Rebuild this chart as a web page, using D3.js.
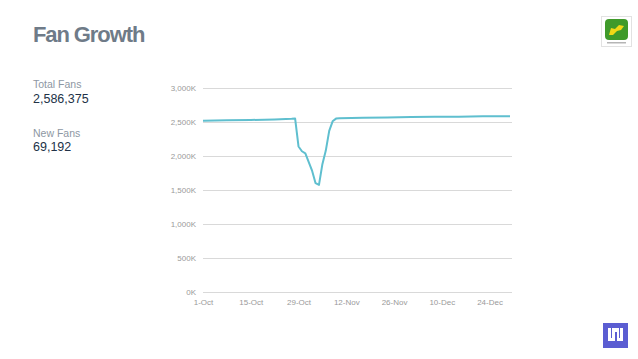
<!DOCTYPE html>
<html><head><meta charset="UTF-8">
<style>
  body, html { margin: 0; padding: 0; background: #fff; overflow: hidden; }
  svg { font-family: 'Liberation Sans', Arial, sans-serif; }
  .grid line { stroke: #d9d9d9; stroke-width: 1; }
  .tick text { fill: #9a9a9a; font-size: 8px; }
</style>
</head>
<body>
<svg id="chart" width="638" height="359"></svg>
<script src="https://d3js.org/d3.v7.min.js"></script>
<script>
// fans over time (thousands)
const dates = [
  "2013-10-01", "2013-10-08", "2013-10-15", "2013-10-22", "2013-10-27", "2013-10-28",
  "2013-10-29", "2013-10-30", "2013-10-31", "2013-11-01", "2013-11-02", "2013-11-03",
  "2013-11-04", "2013-11-05", "2013-11-06", "2013-11-07", "2013-11-08", "2013-11-09",
  "2013-11-10", "2013-11-17", "2013-11-24", "2013-12-01", "2013-12-08", "2013-12-15",
  "2013-12-22", "2013-12-30"
];
const fans = [
  2517, 2524, 2530, 2538, 2548, 2552,
  2140, 2070, 2040, 1910, 1780, 1600,
  1575, 1880, 2080, 2370, 2510, 2550,
  2556, 2561, 2566, 2572, 2576, 2579,
  2583, 2586
];
const yTicks = [0, 500, 1000, 1500, 2000, 2500, 3000];
const xTicks = ["2013-10-01", "2013-10-15", "2013-10-29", "2013-11-12", "2013-11-26", "2013-12-10", "2013-12-24"];
const stats = [
  { label: "Total Fans", value: "2,586,375" },
  { label: "New Fans", value: "69,192" }
];

const parse = d3.timeParse("%Y-%m-%d");
const data = dates.map((d, i) => ({ date: parse(d), value: fans[i] }));

const svg = d3.select("#chart");

// title
svg.append("text")
  .attr("x", 33).attr("y", 42)
  .attr("fill", "#6f7b88")
  .attr("font-size", 22)
  .attr("font-weight", "bold")
  .attr("letter-spacing", -1.1)
  .text("Fan Growth");

// side stats
stats.forEach((s, i) => {
  svg.append("text")
    .attr("x", 33).attr("y", 88 + i * 49)
    .attr("fill", "#8d97a3").attr("font-size", 10.5)
    .text(s.label);
  svg.append("text")
    .attr("x", 33).attr("y", 103 + i * 48)
    .attr("fill", "#223247").attr("font-size", 12.5)
    .text(s.value);
});

const x = d3.scaleTime()
  .domain([parse("2013-10-01"), parse("2013-12-30")])
  .range([203, 510]);
const y = d3.scaleLinear().domain([0, 3000]).range([292, 88]);

// gridlines + y labels
const yAxis = svg.append("g")
  .attr("class", "grid")
  .attr("transform", "translate(203,0)")
  .call(d3.axisLeft(y).tickValues(yTicks).tickSize(-309).tickPadding(7)
    .tickFormat(d => d3.format(",")(d) + "K"));
yAxis.select(".domain").remove();
yAxis.selectAll(".tick line").filter(d => d === 0).attr("stroke", "#8a8a8a");

// x labels
const xAxis = svg.append("g")
  .attr("transform", "translate(0,292)")
  .call(d3.axisBottom(x).tickValues(xTicks.map(parse)).tickSize(0).tickPadding(7)
    .tickFormat(d3.timeFormat("%-d-%b")));
xAxis.select(".domain").remove();

// line
svg.append("path")
  .datum(data)
  .attr("fill", "none")
  .attr("stroke", "#5fbfcf")
  .attr("stroke-width", 2)
  .attr("stroke-linejoin", "round")
  .attr("d", d3.line().x(d => x(d.date)).y(d => y(d.value)));

// logos
const jd = svg.append("g");
jd.append("rect").attr("x", 601.5).attr("y", 16.5).attr("width", 30).attr("height", 30)
  .attr("fill", "#fff").attr("stroke", "#e2e2e2");
jd.append("rect").attr("x", 605).attr("y", 19).attr("width", 23).attr("height", 21).attr("rx", 4)
  .attr("fill", "#3f9a2a");
jd.append("path").attr("d", "M609,35 L611,28 L615,29 L619,25 L624,26 L621,30 L617,31 L613,35 Z")
  .attr("fill", "#f1d816");
jd.append("rect").attr("x", 607).attr("y", 42).attr("width", 19).attr("height", 1.5).attr("fill", "#b5b5b5");

const un = svg.append("g");
un.append("rect").attr("x", 603).attr("y", 323).attr("width", 25).attr("height", 25)
  .attr("fill", "#5b5dd2");
un.append("path").attr("d", "M608,328 v13 h7 v-9 h2 v9 h6 v-13 h-3 v10 h-1 v-10 h-7 v10 h-1 v-10 Z")
  .attr("fill", "#fff");
</script>
</body></html>
